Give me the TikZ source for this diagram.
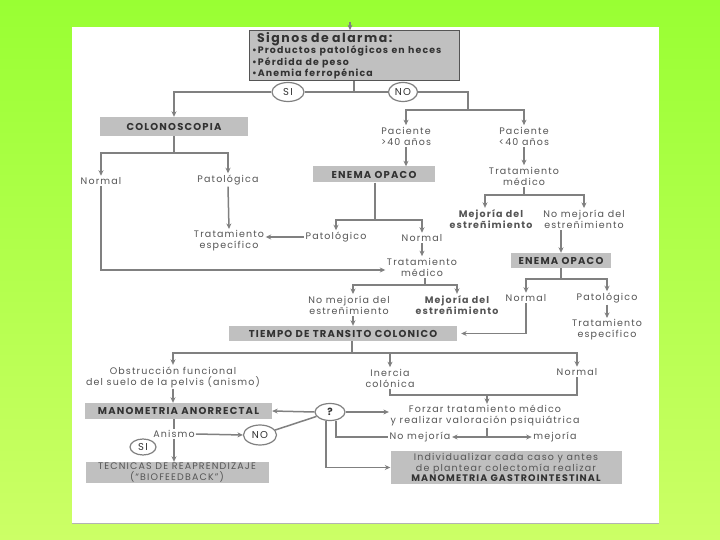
\documentclass[tikz,border=0pt]{standalone}
\usepackage{fontspec}
\setmainfont{Poppins}[LetterSpace=12]
\usepackage{tikz}
\usetikzlibrary{positioning,calc,shapes.geometric,arrows.meta}
\definecolor{LeafGreen}{RGB}{153,255,51}
\definecolor{PaleLeaf}{RGB}{204,255,102}
\definecolor{LineGray}{RGB}{128,128,128}
\definecolor{BoxGray}{RGB}{192,192,192}
\definecolor{InkGray}{RGB}{50,50,50}
\definecolor{SoftInk}{RGB}{85,85,85}

\begin{document}
\begin{tikzpicture}[
  x=1pt, y=-1pt,
  graybox/.style={
    rectangle, fill=BoxGray, text=InkGray,
    align=center, inner sep=1pt,
    font=\fontsize{10}{11}\selectfont\bfseries
  },
  label/.style={
    text=SoftInk, align=center, inner sep=1.5pt,
    font=\fontsize{9.5}{11}\selectfont
  },
  boldlabel/.style={
    label, font=\fontsize{9.5}{11}\selectfont\bfseries
  },
  oval/.style={
    ellipse, draw=LineGray, line width=1.2pt, fill=white, text=InkGray,
    minimum width=32pt, minimum height=19pt, inner sep=0pt,
    font=\fontsize{10}{11}\selectfont
  },
  ln/.style={draw=LineGray, line width=1.5pt},
  arr/.style={ln, -{Stealth[length=5.5pt,width=5pt]}}
]

%% Background and sheet
\shade[top color=LeafGreen, bottom color=PaleLeaf] (0,0) rectangle (720,540);
\fill[white] (72,27) rectangle (659,523);
\draw[LineGray!60, line width=0.6pt] (72,523) -- (659,523);
\useasboundingbox (0,0) rectangle (720,540);

%% Level 0 -- Alarm signs
\node[graybox, draw=SoftInk, line width=0.5pt, minimum width=210pt, minimum height=45pt,
      text width=204pt, align=left, inner sep=2pt] (signos) at (354,55.5)
  {{\fontsize{12.5}{12}\selectfont\hspace{5pt}Signos de alarma:}\\[-1pt]
   {\fontsize{9.4}{10}\selectfont\textbullet Productos patológicos en heces\\
    \textbullet Pérdida de peso\\
    \textbullet Anemia ferropénica}};
\node[oval] (si1) at (288,92) {SI};
\node[oval, minimum width=29pt] (no1) at (403,92) {NO};

%% Left branch -- colonoscopy
\node[graybox, minimum width=148pt, minimum height=19pt] (colono) at (174,126.5) {COLONOSCOPIA};
\node[label] (normalA) at (101,181) {Normal};
\node[label] (patolA) at (228,180) {Patológica};
\node[label] (tratespA) at (229,241) {Tratamiento\\específico};

%% Right branch -- patient age
\node[label] (pac40m) at (406,136) {Paciente\\>40 años};
\node[label] (pac40n) at (524,136) {Paciente\\<40 años};
\node[graybox, minimum width=122pt, minimum height=16pt] (enemaA) at (374,174.5) {ENEMA OPACO};
\node[label] (tratmedB) at (524,176) {Tratamiento\\médico};
\node[boldlabel] (mejB) at (491,219) {Mejoría del\\estreñimiento};
\node[label] (nomejB) at (584,219) {No mejoría del\\estreñimiento};
\node[graybox, minimum width=100pt, minimum height=15pt] (enemaB) at (561,260.5) {ENEMA OPACO};
\node[label] (normalC) at (526,298) {Normal};
\node[label] (patolC) at (607,298) {Patológico};
\node[label] (tratespC) at (607,330) {Tratamiento\\específico};

%% Middle -- barium enema results
\node[label] (patolD) at (336,237) {Patológico};
\node[label] (normalD) at (422,238) {Normal};
\node[label] (tratmedD) at (422,267) {Tratamiento\\médico};
\node[label] (nomejD) at (349,305) {No mejoría del\\estreñimiento};
\node[boldlabel] (mejD) at (457,305) {Mejoría del\\estreñimiento};
\node[graybox, minimum width=228pt, minimum height=15pt] (tiempo) at (343,333.5) {TIEMPO DE TRANSITO COLONICO};

%% Lower part -- transit results
\node[label] (obstr) at (173,377) {Obstrucción funcional\\del suelo de la pelvis (anismo)};
\node[label] (inercia) at (390,378) {Inercia\\colónica};
\node[label] (normalE) at (577,372) {Normal};
\node[graybox, minimum width=187pt, minimum height=16pt] (mano) at (178.5,411) {MANOMETRIA ANORRECTAL};
\node[oval, minimum width=30pt, minimum height=17pt, font=\fontsize{10}{11}\selectfont\bfseries] (pregunta) at (330,412) {?};
\node[label] (forzar) at (485,416) {Forzar tratamiento médico\\y realizar valoración psiquiátrica};
\node[label] (nomejE) at (420,437) {No mejoría};
\node[label] (mejE) at (555,437) {mejoría};
\node[graybox, font=\fontsize{9.5}{10.5}\selectfont, text=SoftInk, minimum width=231pt, minimum height=33pt] (indiv) at (506,467.5)
  {Individualizar cada caso y antes\\de plantear colectomía realizar\\{\bfseries\color{InkGray}MANOMETRIA GASTROINTESTINAL}};
\node[label, fill=white, inner sep=1pt] (anismo) at (174,434) {Anismo};
\node[oval, minimum width=33pt, minimum height=20pt] (no2) at (260,435) {NO};
\node[oval, minimum width=26pt, minimum height=16pt] (si2) at (143,447) {SI};
\node[graybox, font=\fontsize{9.5}{10.5}\selectfont, text=SoftInk, minimum width=183pt, minimum height=21pt] (tecnicas) at (177,472.5)
  {TECNICAS DE REAPRENDIZAJE\\(“BIOFEEDBACK”)};

%% Junctions
\coordinate (entrada) at (350,22);
\coordinate (jB) at (468,110);
\coordinate (jC) at (174,153);
\coordinate (jD) at (524,195);
\coordinate (jE) at (561,279);
\coordinate (jF) at (375,220);
\coordinate (jG) at (425,285);
\coordinate (jH) at (352,353);
\coordinate (jI) at (487,395);
\coordinate (jJ) at (487,437);

%% Arrows -- top
\draw[arr] (entrada) -- (entrada |- signos.north);
\draw[ln] (signos.south) -- (signos.south |- si1);
\draw[arr] (si1.west) -| (colono.north);
\draw[ln] (si1.east) -- (no1.west);
\draw[ln] (no1.east) -| (jB);
\draw[arr] (jB) -| (pac40m.north);
\draw[arr] (jB) -| (pac40n.north);

%% Arrows -- colonoscopy
\draw[ln] (colono.south) -- (jC);
\draw[arr] (jC) -| (normalA.north);
\draw[arr] (jC) -| (patolA.north);
\draw[arr] (patolA.south) -- (tratespA.north);
\draw[arr] (normalA.south) |- ([yshift=-3pt]tratmedD.west);

%% Arrows -- right column
\draw[arr] (pac40m.south) -- (pac40m.south |- enemaA.north);
\draw[arr] (pac40n.south) -- (tratmedB.north);
\draw[ln] (tratmedB.south) -- (jD);
\draw[arr] (jD) -| ([xshift=-6pt]mejB.north);
\draw[arr] (jD) -| (nomejB.north);
\draw[arr] (nomejB.south -| enemaB.north) -- (enemaB.north);
\draw[ln] (enemaB.south) -- (jE);
\draw[arr] (jE) -| (normalC.north);
\draw[arr] (jE) -| (patolC.north);
\draw[arr] (patolC.south) -- (tratespC.north);
\draw[arr, shorten >=4pt] (normalC.south) |- (tiempo.east);

%% Arrows -- barium enema
\draw[ln] (enemaA.south -| jF) -- (jF);
\draw[arr] (jF) -| (patolD.north);
\draw[arr] (jF) -| (normalD.north);
\draw[arr] (patolD.west) -- (patolD.west -| tratespA.east);
\draw[arr] (normalD.south) -- (tratmedD.north);
\draw[ln] (tratmedD.south -| jG) -- (jG);
\draw[arr] (jG) -| ([xshift=4pt]nomejD.north);
\draw[arr] (jG) -| (mejD.north);
\draw[arr] ([xshift=4pt]nomejD.south) -- ([xshift=4pt]nomejD.south |- tiempo.north);

%% Arrows -- colonic transit
\draw[ln] (tiempo.south -| jH) -- (jH);
\draw[arr] (jH) -| (obstr.north);
\draw[arr] (jH) -| (inercia.north);
\draw[arr] (jH) -| (normalE.north);
\draw[arr] (obstr.south) -- (obstr.south |- mano.north);
\draw[ln] (inercia.south) |- (jI);
\draw[ln] (normalE.south) |- (jI);
\draw[arr] (jI) -- (jI |- forzar.north);

%% Arrows -- question node
\draw[arr] (pregunta.west) -- (mano.east);
\draw[arr] (pregunta.east) -- (pregunta.east -| forzar.west);
\draw[ln] (jJ |- forzar.south) -- (jJ);
\draw[arr] (jJ) -- (nomejE.east);
\draw[arr] (jJ) -- (mejE.west);
\draw[ln] ([xshift=6pt]pregunta.south) |- (nomejE.west);
\draw[arr] ([xshift=-4pt]pregunta.south) |- (indiv.west);

%% Arrows -- anorectal manometry
\draw[ln] (mano.south -| anismo.north) -- (anismo.north);
\draw[arr] (anismo.south) -- (anismo.south |- tecnicas.north);
\draw[arr] (anismo.east) -- (no2.west);
\draw[ln] (no2) -- (pregunta);

\end{tikzpicture}
\end{document}
